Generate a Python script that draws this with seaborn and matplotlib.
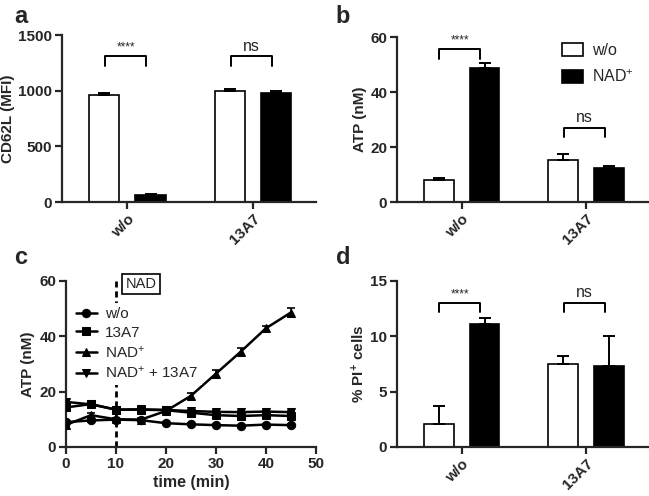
import numpy as np
import pandas as pd
import matplotlib
matplotlib.use('Agg')
import matplotlib.pyplot as plt
import matplotlib.patches as mpatches
import seaborn as sns

# Bar panels (a, b, d): two groups, two treatments
groups = ['w/o', '13A7']
treatments = ['w/o', 'NAD+']

cd62l_wo = [960, 1000]
cd62l_wo_err = [20, 12]
cd62l_nad = [60, 975]
cd62l_nad_err = [8, 25]

atp_wo = [8.0, 15.4]
atp_wo_err = [0.7, 2.1]
atp_nad = [48.8, 12.2]
atp_nad_err = [1.6, 1.0]

pi_wo = [2.1, 7.5]
pi_wo_err = [1.6, 0.7]
pi_nad = [11.1, 7.35]
pi_nad_err = [0.6, 2.65]

# Time course (c)
time_min = [0, 5, 10, 15, 20, 25, 30, 35, 40, 45]
conditions = ['w/o', '13A7', 'NAD$^{+}$', 'NAD$^{+}$ + 13A7']
atp_time_wo = [9.0, 9.6, 9.9, 9.7, 8.6, 8.2, 7.9, 7.7, 8.1, 7.9]
atp_time_13a7 = [14.3, 15.5, 13.5, 13.5, 13.3, 12.4, 11.5, 11.2, 11.5, 11.2]
atp_time_nad = [8.0, 11.5, 10.0, 9.9, 13.0, 18.5, 26.5, 34.5, 42.9, 48.6]
atp_time_nad13 = [16.3, 15.4, 13.5, 13.6, 13.4, 13.0, 12.7, 12.6, 12.8, 12.6]
err_time_wo = [0.5, 0.4, 0.4, 0.4, 0.4, 0.3, 0.3, 0.3, 0.3, 0.3]
err_time_13a7 = [0.6, 0.5, 0.5, 0.5, 0.5, 0.5, 0.6, 0.6, 0.6, 0.6]
err_time_nad = [0.8, 0.8, 0.5, 0.5, 0.6, 1.0, 1.5, 1.2, 1.0, 1.6]
err_time_nad13 = [0.6, 0.5, 0.5, 0.5, 0.5, 0.5, 0.5, 0.5, 0.5, 0.5]

sns.set_style('ticks')
plt.rcParams['font.family'] = ['Liberation Sans', 'DejaVu Sans']
plt.rcParams['mathtext.default'] = 'regular'
plt.rcParams['axes.linewidth'] = 1.6

fig = plt.figure(figsize=(6.49, 4.96), dpi=100)
ax_a = fig.add_axes([0.0955, 0.5927, 0.3915, 0.3367])
ax_b = fig.add_axes([0.6117, 0.5927, 0.387, 0.3327])
ax_c = fig.add_axes([0.1017, 0.0988, 0.385, 0.3347])
ax_d = fig.add_axes([0.6117, 0.0988, 0.387, 0.3347])

TICK_FS = 11
LABEL_FS = 11


def style_axes(ax):
    sns.despine(ax=ax)
    ax.tick_params(axis='both', width=1.6, length=5, labelsize=TICK_FS, direction='out', pad=2)
    for lab in ax.get_xticklabels() + ax.get_yticklabels():
        lab.set_fontweight('bold')


def bar_panel(ax, wo, wo_err, nad, nad_err, ylim, yticks, ylabel, brackets):
    df = pd.DataFrame({
        'group': groups * 2,
        'treatment': [treatments[0]] * 2 + [treatments[1]] * 2,
        'value': wo + nad,
    })
    sns.barplot(data=df, x='group', y='value', hue='treatment', order=groups,
                hue_order=treatments, palette={'w/o': 'white', 'NAD+': 'black'},
                edgecolor='black', linewidth=1.2, width=0.736, gap=0.35,
                errorbar=None, legend=False, ax=ax)
    for cont, vals, errs in zip(ax.containers, [wo, nad], [wo_err, nad_err]):
        xs = [p.get_x() + p.get_width() / 2 for p in cont.patches]
        ax.errorbar(xs, vals, yerr=[np.zeros(len(errs)), errs], fmt='none',
                    ecolor='black', elinewidth=1.4, capsize=4.5, capthick=1.4, zorder=1)
    ax.set_xlim(-0.52, 1.5)
    ax.set_ylim(*ylim)
    ax.set_yticks(yticks)
    ax.set_xlabel('')
    ax.set_ylabel(ylabel, fontsize=LABEL_FS, fontweight='bold', labelpad=2)
    style_axes(ax)
    ax.set_xticks(range(len(groups)))
    ax.set_xticklabels(groups, rotation=45, ha='right', rotation_mode='anchor',
                       fontweight='bold', fontsize=TICK_FS)
    # significance brackets
    for xc, top, leg, txt in brackets:
        x0, x1 = xc - 0.18, xc + 0.15
        ax.plot([x0, x0, x1, x1], [leg, top, top, leg], color='black', lw=1.4,
                clip_on=False)
        fs = 8.5 if txt.startswith('*') else 11.5
        ax.text((x0 + x1) / 2, top + (ylim[1] - ylim[0]) * 0.015, txt,
                ha='center', va='bottom', fontsize=fs)


bar_panel(ax_a, cd62l_wo, cd62l_wo_err, cd62l_nad, cd62l_nad_err,
          (0, 1500), [0, 500, 1000, 1500], 'CD62L (MFI)',
          [(0, 1310, 1225, '****'), (1, 1310, 1225, 'ns')])
bar_panel(ax_b, atp_wo, atp_wo_err, atp_nad, atp_nad_err,
          (0, 60), [0, 20, 40, 60], 'ATP (nM)',
          [(0, 55.5, 52, '****'), (1, 27, 23.5, 'ns')])
bar_panel(ax_d, pi_wo, pi_wo_err, pi_nad, pi_nad_err,
          (0, 15), [0, 5, 10, 15], '% PI$^{+}$ cells',
          [(0, 13.05, 12.2, '****'), (1, 13.05, 12.2, 'ns')])

# legend of panel b
leg_handles = [mpatches.Patch(facecolor='white', edgecolor='black', lw=1.2),
               mpatches.Patch(facecolor='black', edgecolor='black', lw=1.2)]
ax_b.legend(leg_handles, ['w/o', 'NAD$^{+}$'], loc='upper left',
            bbox_to_anchor=(0.6, 1.05), frameon=False, fontsize=11.5,
            handlelength=1.3, handleheight=0.8, labelspacing=0.65, handletextpad=0.6)

# panel c: time course
tc = pd.DataFrame({
    'time': time_min * 4,
    'ATP': atp_time_wo + atp_time_13a7 + atp_time_nad + atp_time_nad13,
    'condition': sum([[c] * len(time_min) for c in conditions], []),
})
markers = dict(zip(conditions, ['o', 's', '^', 'v']))
ax_c.axvline(10, color='black', lw=2, linestyle=(0, (2.2, 1.4)), zorder=1)
sns.lineplot(data=tc, x='time', y='ATP', style='condition', style_order=conditions,
             markers=markers, dashes=False, color='black', lw=1.8, markersize=6,
             markeredgecolor='black', errorbar=None, ax=ax_c, zorder=3)
for vals, errs in zip([atp_time_wo, atp_time_13a7, atp_time_nad, atp_time_nad13],
                      [err_time_wo, err_time_13a7, err_time_nad, err_time_nad13]):
    ax_c.errorbar(time_min, vals, yerr=errs, fmt='none', ecolor='black',
                  elinewidth=1.2, capsize=3, capthick=1.2, zorder=2)
h, l = ax_c.get_legend_handles_labels()
lg = ax_c.legend(h, l, loc='upper left', bbox_to_anchor=(0.02, 0.87), fontsize=11,
                 frameon=True, framealpha=1, edgecolor='none', facecolor='white',
                 fancybox=False, handlelength=1.4, handletextpad=0.5,
                 labelspacing=0.3, borderpad=0.3, borderaxespad=0)
lg.set_zorder(5)
ax_c.text(15, 59, 'NAD', ha='center', va='center', fontsize=10.5, clip_on=False,
          bbox=dict(boxstyle='square,pad=0.22', fc='white', ec='black', lw=1.2), zorder=6)
ax_c.set_xlim(0, 50)
ax_c.set_ylim(0, 60)
ax_c.set_xticks([0, 10, 20, 30, 40, 50])
ax_c.set_yticks([0, 20, 40, 60])
ax_c.set_xlabel('time (min)', fontsize=LABEL_FS + 0.5, fontweight='bold', labelpad=3)
ax_c.set_ylabel('ATP (nM)', fontsize=LABEL_FS, fontweight='bold', labelpad=3)
style_axes(ax_c)

# panel letters
for x, y, s in [(0.022, 0.99, 'a'), (0.517, 0.99, 'b'),
                (0.022, 0.505, 'c'), (0.517, 0.505, 'd')]:
    fig.text(x, y, s, fontsize=17, fontweight='bold', va='top', ha='left')

fig.savefig('out.png', dpi=100)
